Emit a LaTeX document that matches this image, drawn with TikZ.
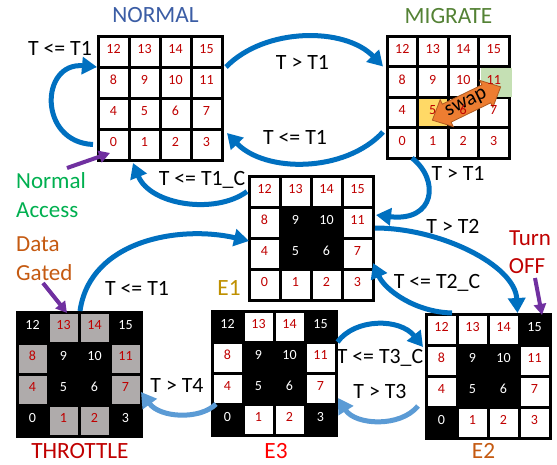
\documentclass[tikz,border=0pt]{standalone}
\usepackage{fontspec}
\setmainfont{Carlito}
\usetikzlibrary{arrows.meta,calc}

% cell kinds: w = white, k = black, g = gray (gated), y = yellow (swapped)
\definecolor{fillw}{RGB}{255,255,255}
\definecolor{inkw}{RGB}{192,0,0}
\definecolor{fillk}{RGB}{0,0,0}
\definecolor{inkk}{RGB}{255,255,255}
\definecolor{fillg}{RGB}{175,171,171}
\definecolor{inkg}{RGB}{192,0,0}
\definecolor{filly}{RGB}{255,217,102}
\definecolor{inky}{RGB}{192,0,0}
\definecolor{swapgreen}{RGB}{197,224,180}
\definecolor{flowblue}{RGB}{0,112,192}
\definecolor{lightblue}{RGB}{91,155,213}
\definecolor{pointerpurple}{RGB}{112,48,160}
\definecolor{swaporange}{RGB}{237,125,49}
\definecolor{swapedge}{RGB}{174,90,33}
\definecolor{normalblue}{RGB}{59,93,165}
\definecolor{migrategreen}{RGB}{84,130,53}
\definecolor{accessgreen}{RGB}{0,176,80}
\definecolor{gatedorange}{RGB}{197,90,17}
\definecolor{eonegold}{RGB}{191,144,0}
\definecolor{offred}{RGB}{192,0,0}
\definecolor{ethreered}{RGB}{255,0,0}

\tikzset{
  cell/.style={rectangle, inner sep=0pt, outer sep=0pt, draw=none},
  cellnum/.style={inner sep=0pt, anchor=base, font=\fontsize{14}{14}\selectfont},
  gridline/.style={line width=3pt, draw=black},
  statename/.style={inner sep=0pt, anchor=base, font=\fontsize{23.3}{28}\selectfont},
  cond/.style={inner sep=0pt, anchor=base, font=\fontsize{21.8}{26}\selectfont, text=black},
  note/.style={inner sep=0pt, anchor=base west, font=\fontsize{23}{28}\selectfont},
  flow/.style={line width=5pt, draw=flowblue, -{Triangle[length=15pt,width=17pt]}},
  lightflow/.style={flow, draw=lightblue},
  pointer/.style={line width=4pt, draw=pointerpurple, -{Triangle[length=11pt,width=12pt]}},
  swaparrow/.style={fill=swaporange, draw=swapedge, line width=0.8pt},
}

% 4x4 bank grid: #1 name, #2 left, #3 top, #4 cell size,
% #5 kinds of cells 0..15, #6 extra drawing placed over the grid lines
\newcommand\cellgrid[6]{%
  \foreach \kind [count=\ci from 0] in {#5} {%
    \pgfmathtruncatemacro\cc{mod(\ci,4)}%
    \pgfmathtruncatemacro\rr{3-int(\ci/4)}%
    \edef\fc{fill\kind}%
    \node[cell, fill=\fc, minimum size=#4pt] (#1-\ci) at ({#2+(\cc+0.5)*#4},{#3+(\rr+0.5)*#4}) {};
  }
  \draw[gridline] (#2,#3) rectangle ({#2+4*#4},{#3+4*#4});
  \foreach \k in {1,2,3} {
    \draw[gridline] ({#2+\k*#4},#3) -- ({#2+\k*#4},{#3+4*#4});
    \draw[gridline] (#2,{#3+\k*#4}) -- ({#2+4*#4},{#3+\k*#4});
  }
  #6
  \foreach \kind [count=\ci from 0] in {#5} {%
    \edef\tc{ink\kind}%
    \node[cellnum, text=\tc] (#1-\ci-n) at ([yshift=-2.3pt]#1-\ci.center) {\ci};
  }
}

% green highlight of bank 11 and the swap arrow between banks 5 and 11
\newcommand\swapmark{%
  \fill[swapgreen] (480.5,67.5) rectangle (512,97);
  \begin{scope}[shift={(466.5,103.5)}, rotate=26]
    \filldraw[swaparrow]
      (-38,0) -- (-22,15) -- (-22,10) -- (22,10) -- (22,15) -- (38,0)
      -- (22,-15) -- (22,-10) -- (-22,-10) -- (-22,-15) -- cycle;
  \end{scope}
  \node[rotate=26, inner sep=0pt, font=\fontsize{21}{21}\selectfont] (swaptext) at (466.5,103.5) {swap};
}

\begin{document}
\begin{tikzpicture}[x=1pt,y=-1pt]
\useasboundingbox (0,0) rectangle (557,464);
\fill[white] (0,0) rectangle (557,464);

% the six bank states
\cellgrid{normal}{98}{36}{31}{w,w,w,w,w,w,w,w,w,w,w,w,w,w,w,w}{}
\cellgrid{migrate}{387}{36}{30.5}{w,w,w,w,w,y,w,w,w,w,w,w,w,w,w,w}{\swapmark}
\cellgrid{e1}{249}{176}{31}{w,w,w,w,w,k,k,w,w,k,k,w,w,w,w,w}{}
\cellgrid{throttle}{17}{312}{31}{k,g,g,k,g,k,k,g,g,k,k,g,k,g,g,k}{}
\cellgrid{e3}{212}{311}{31}{k,w,w,k,w,k,k,w,w,k,k,w,k,w,w,k}{}
\cellgrid{e2}{426}{314}{31}{k,w,w,w,w,k,k,w,w,k,k,w,w,w,w,k}{}

% state names
\node[statename, text=normalblue] (tNormal) at (155.5,22) {NORMAL};
\node[statename, text=migrategreen] (tMigrate) at (448.5,23) {MIGRATE};
\node[statename, text=eonegold] (tEone) at (229,295) {E1};
\node[statename, text=offred] (tThrottle) at (80,458.5) {THROTTLE};
\node[statename, text=ethreered] (tEthree) at (276,458.5) {E3};
\node[statename, text=gatedorange] (tEtwo) at (483.5,458.5) {E2};

% transition conditions
\node[cond] (c1) at (60,55) {T <= T1};
\node[cond] (c2) at (302.5,69) {T > T1};
\node[cond] (c3) at (295,144) {T <= T1};
\node[cond] (c4) at (202,185) {T <= T1\_C};
\node[cond] (c5) at (458,180) {T > T1};
\node[cond] (c6) at (453,233) {T > T2};
\node[cond] (c7) at (437,288) {T <= T2\_C};
\node[cond] (c8) at (137,295) {T <= T1};
\node[cond] (c9) at (177,392) {T > T4};
\node[cond] (c10) at (380,363) {T <= T3\_C};
\node[cond] (c11) at (380,398) {T > T3};

% legend notes
\node[note, text=accessgreen] (nNormal) at (16,188) {Normal};
\node[note, text=accessgreen] (nAccess) at (16,217) {Access};
\node[note, text=gatedorange] (nData) at (16,251) {Data};
\node[note, text=gatedorange] (nGated) at (16,280) {Gated};
\node[note, text=offred, anchor=base] (nTurn) at (530,245) {Turn};
\node[note, text=offred, anchor=base] (nOff) at (527,273) {OFF};

% pointers from the notes
\coordinate (accessTail) at (67,168);
\coordinate (gatedTail) at (43,283);
\coordinate (offTail) at (535,278);
\draw[pointer] (accessTail) -- ([xshift=12pt,yshift=7pt]normal-0.south west);
\draw[pointer] (gatedTail) -- ([xshift=3.5pt,yshift=-1pt]throttle-13.north);
\draw[pointer] (offTail) -- ([xshift=7.5pt,yshift=-1pt]e2-15.north);

% transitions
\draw[flow] ([xshift=-5pt]normal-0.west) .. controls (38,142) and (40,62) .. ([xshift=-1pt]normal-8.north west);
\draw[flow] ([xshift=4pt]normal-15.south east) .. controls (265,27) and (345,27) .. ([xshift=-4pt]migrate-12.south west);
\draw[flow] ([xshift=-4pt,yshift=-4.5pt]migrate-0.north west) .. controls (345,173) and (265,173) .. ([xshift=5pt,yshift=-4pt]normal-3.north east);
\draw[flow] ([xshift=-2pt]e1-12.west) .. controls (215,215) and (150,205) .. ([xshift=4pt,yshift=-3pt]normal-1.south west);
\draw[flow] ([xshift=-5.5pt]migrate-1.south west) .. controls (440,180) and (435,222) .. ([xshift=3pt,yshift=-8pt]e1-11.north east);
\draw[flow] ([xshift=2pt,yshift=-5.5pt]e1-11.east) .. controls (440,228) and (515,265) .. ([xshift=-1.5pt,yshift=1pt]e2-14.north east);
\draw[flow] ([xshift=-5pt,yshift=1pt]e2-12.north east) .. controls (415,312) and (385,290) .. ([yshift=-9.5pt]e1-7.east);
\draw[flow] ([xshift=1pt,yshift=1pt]throttle-13.north east) .. controls (90,240) and (180,225) .. ([yshift=-3pt]e1-8.south west);
\draw[flow] ([xshift=1.5pt]e3-15.south east) .. controls (355,318) and (400,318) .. ([xshift=-3pt,yshift=-2pt]e2-8.north west);
\draw[lightflow] ([xshift=-8pt,yshift=1pt]e2-0.north west) .. controls (400,428) and (355,425) .. ([xshift=2pt,yshift=6pt]e3-7.south east);
\draw[lightflow] ([xshift=4pt]e3-0.north west) .. controls (200,420) and (160,418) .. ([yshift=-2.5pt]throttle-7.east);
\end{tikzpicture}
\end{document}
